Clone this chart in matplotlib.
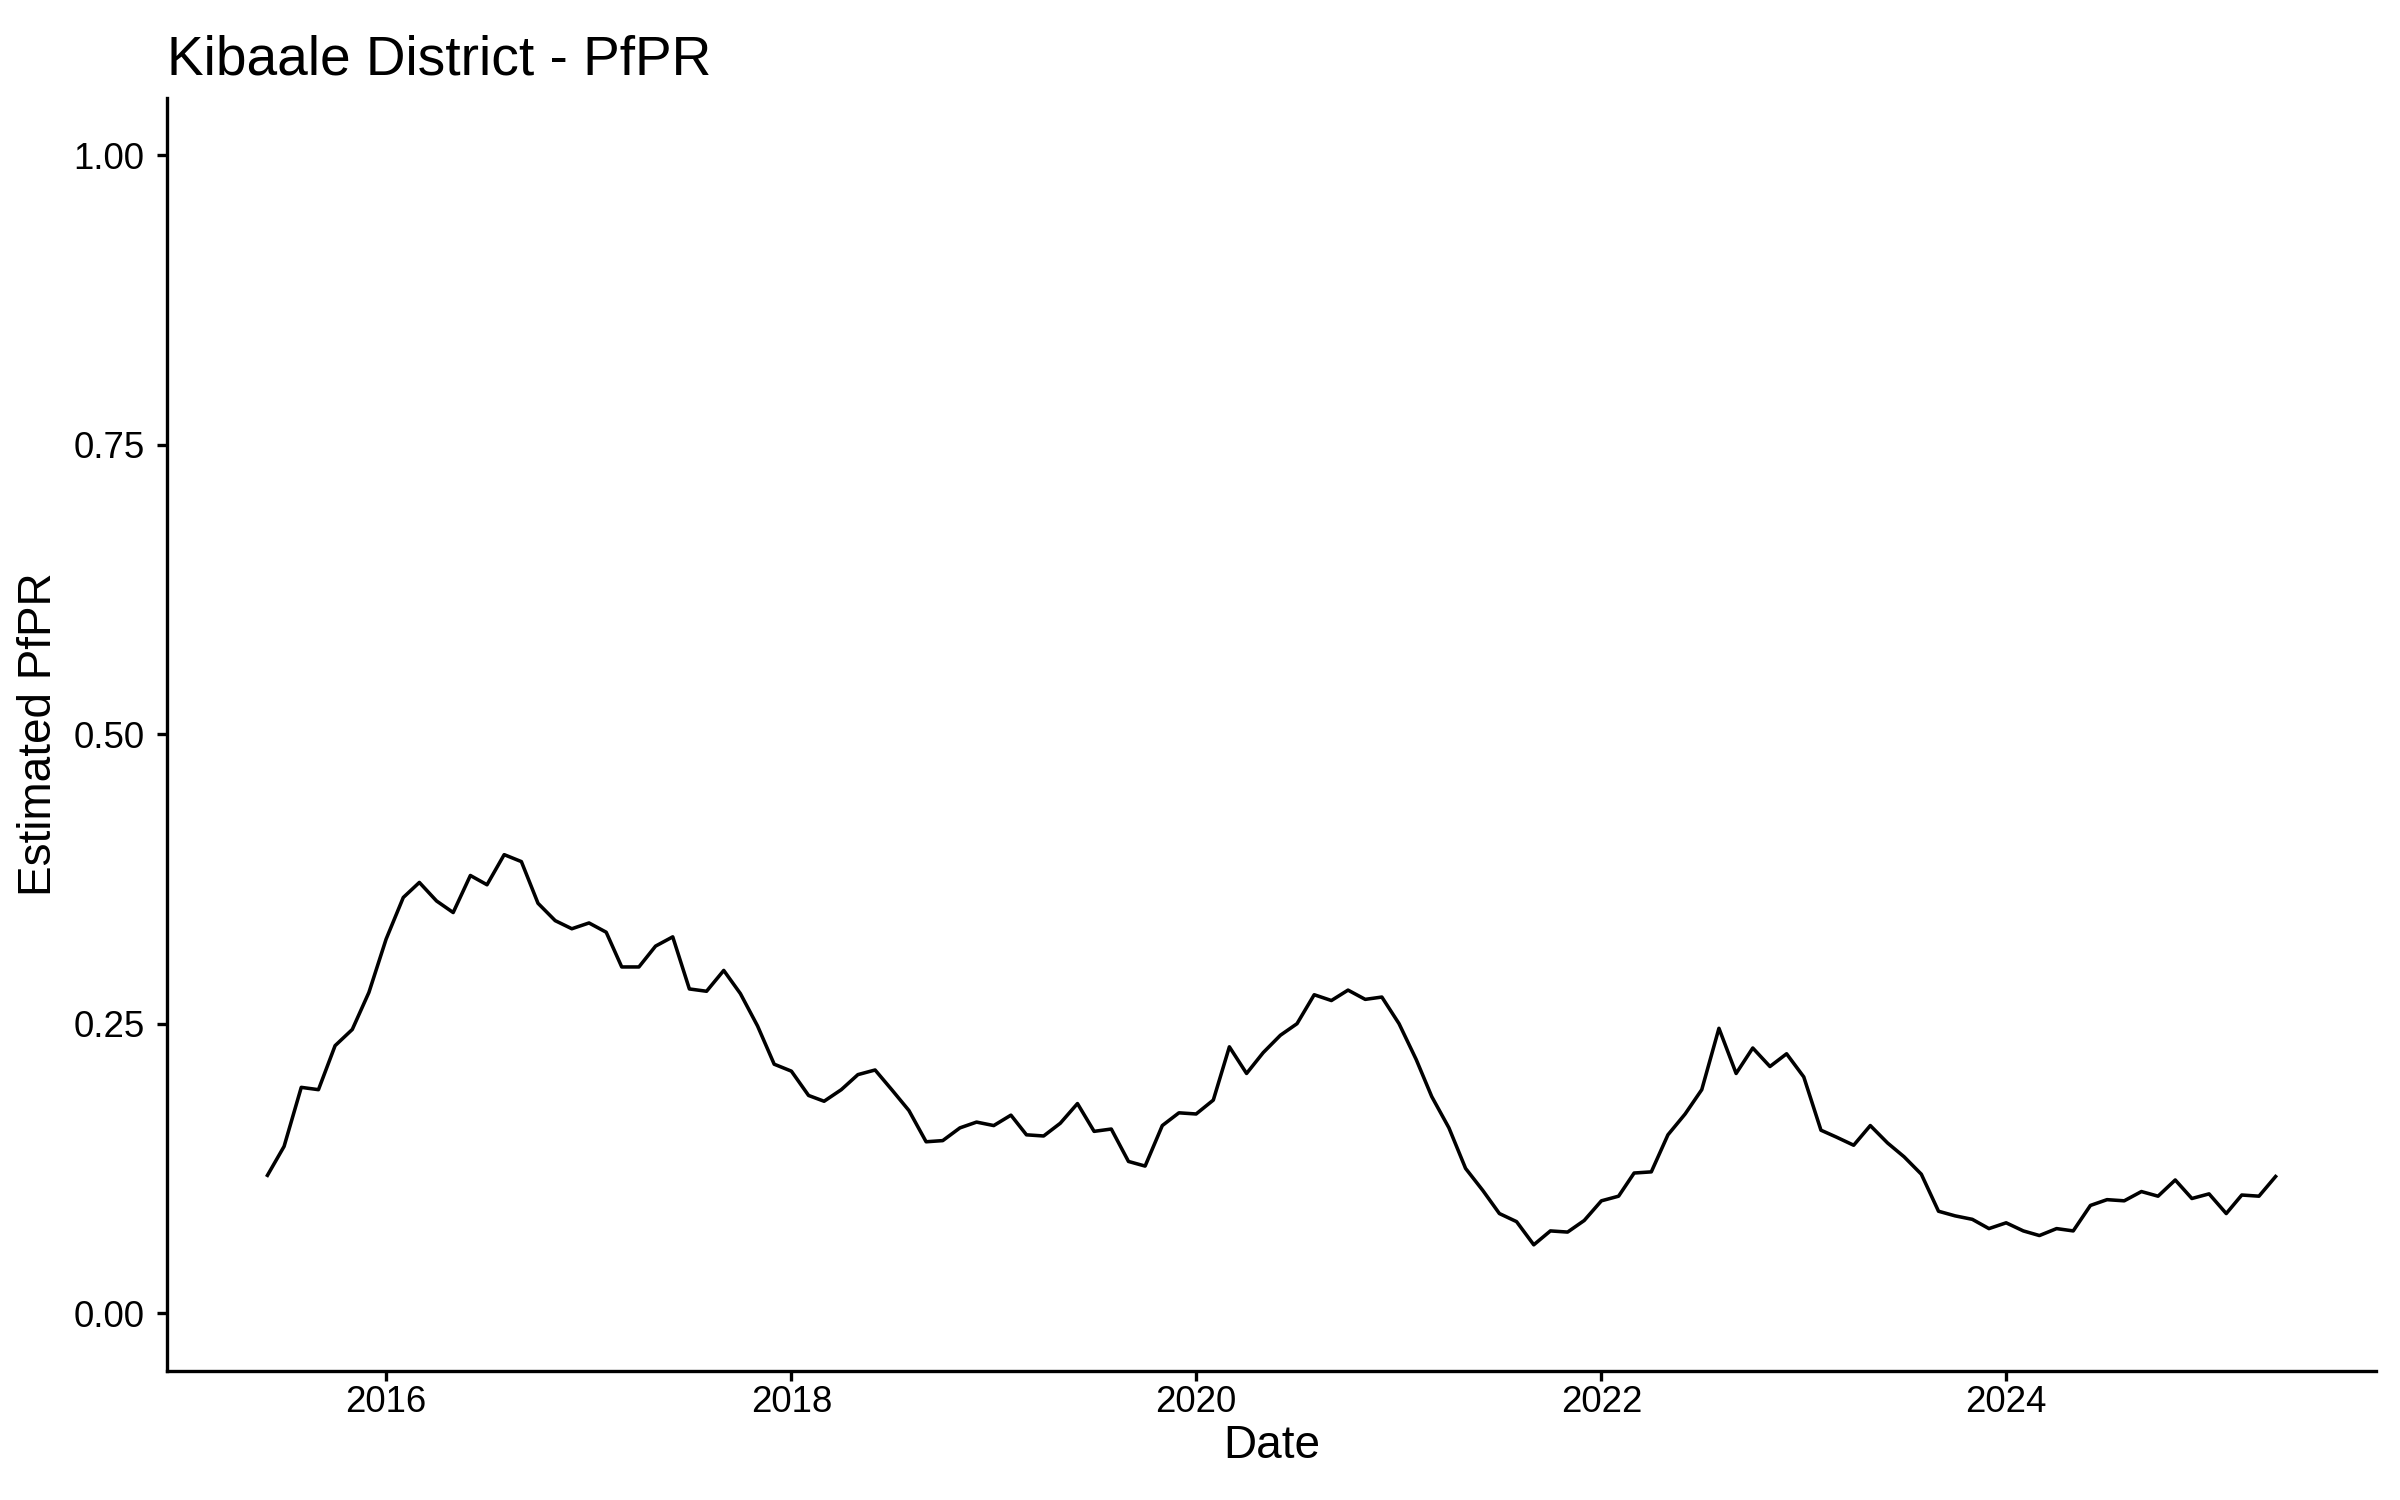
"""
Kibaale District - estimated PfPR over time
"""
import pandas as pd
import matplotlib.pyplot as plt
import matplotlib.dates as mdates

plt.rcParams['font.family'] = ['Liberation Sans', 'DejaVu Sans']

# monthly estimates, Jun 2015 - May 2025
start_month = '2015-06-01'
pfpr = [
    0.119, 0.144, 0.195, 0.193, 0.231, 0.245, 0.277, 0.323, 0.359, 0.372,
    0.356, 0.346, 0.378, 0.370, 0.396, 0.390, 0.354, 0.339, 0.332, 0.337,
    0.329, 0.299, 0.299, 0.317, 0.325, 0.280, 0.278, 0.296, 0.276, 0.248,
    0.215, 0.209, 0.188, 0.183, 0.193, 0.206, 0.210, 0.193, 0.175, 0.148,
    0.149, 0.160, 0.165, 0.162, 0.171, 0.154, 0.153, 0.164, 0.181, 0.157,
    0.159, 0.131, 0.127, 0.162, 0.173, 0.172, 0.184, 0.230, 0.207, 0.225,
    0.240, 0.250, 0.275, 0.270, 0.279, 0.271, 0.273, 0.250, 0.219, 0.187,
    0.160, 0.125, 0.106, 0.086, 0.079, 0.059, 0.071, 0.070, 0.080, 0.097,
    0.101, 0.121, 0.122, 0.154, 0.172, 0.193, 0.246, 0.207, 0.229, 0.213,
    0.224, 0.204, 0.158, 0.152, 0.145, 0.162, 0.147, 0.135, 0.120, 0.088,
    0.084, 0.081, 0.073, 0.078, 0.071, 0.067, 0.073, 0.071, 0.093, 0.098,
    0.097, 0.105, 0.101, 0.115, 0.099, 0.103, 0.086, 0.102, 0.101, 0.118,
]
dates = pd.date_range(start_month, periods=len(pfpr), freq='MS')
y_ticks = [0.0, 0.25, 0.5, 0.75, 1.0]

fig = plt.figure(figsize=(8, 5), dpi=300)
ax = fig.add_axes([0.0696, 0.086, 0.9204, 0.849])
ax.plot(dates, pfpr, color='black', linewidth=0.85)

# ggplot-style 5% expansion
span = dates[-1] - dates[0]
ax.set_xlim(dates[0] - span * 0.05, dates[-1] + span * 0.05)
ax.set_ylim(-0.05, 1.05)
ax.set_yticks(y_ticks)
ax.set_yticklabels([f'{v:.2f}' for v in y_ticks])
ax.xaxis.set_major_locator(mdates.YearLocator(2))
ax.xaxis.set_major_formatter(mdates.DateFormatter('%Y'))

for side in ['top', 'right']:
    ax.spines[side].set_visible(False)
for side in ['left', 'bottom']:
    ax.spines[side].set_linewidth(0.8)
ax.tick_params(length=2.4, width=0.8, labelsize=8.8, colors='black')
ax.tick_params(axis='x', pad=1)
ax.tick_params(axis='y', pad=3)

ax.set_xlabel('Date', fontsize=11, labelpad=1)
ax.set_ylabel('Estimated PfPR', fontsize=11, labelpad=3)
ax.set_title('Kibaale District - PfPR', fontsize=13.2, loc='left', pad=5.5)

fig.savefig('out.png', dpi=300)
